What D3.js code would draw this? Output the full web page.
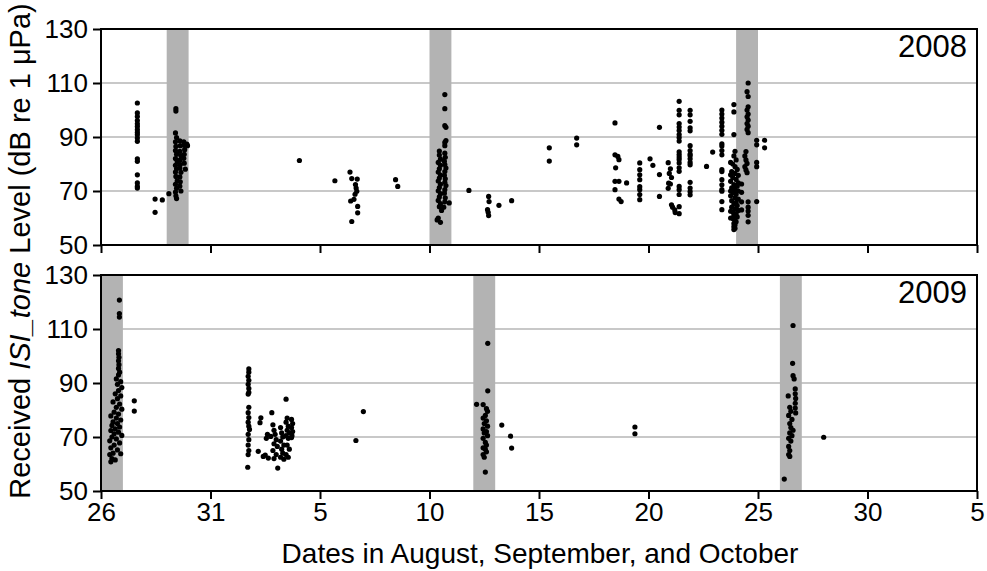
<!DOCTYPE html>
<html>
<head>
<meta charset="utf-8">
<script src="https://cdn.jsdelivr.net/npm/d3@7"></script>
<style>
  body { margin: 0; background: #fff; }
  svg { font-family: Arial, "Liberation Sans", sans-serif; }
  .grid line { stroke: #c8c8c8; stroke-width: 2; }
  .band { fill: #b3b3b3; }
  .dot { fill: #000; }
  .frame { fill: none; stroke: #000; stroke-width: 2; }
  .axis text { font-size: 26px; fill: #000; }
  .axis line { stroke: #000; stroke-width: 2; }
  .axis path { display: none; }
</style>
</head>
<body>
<svg></svg>
<script>
//================DATA=========================
// x = days after 26 August (00:00), y = received level in dB re 1 uPa
const xTicks = [0, 5, 10, 15, 20, 25, 30, 35, 40];
const xTickLabels = ['26', '31', '5', '10', '15', '20', '25', '30', '5'];
const yTicks = [50, 70, 90, 110, 130];

// shaded day bands (start day, one day wide)
const bands2008 = [3, 15, 29];
const bands2009 = [0, 17, 31];

const obs2008 = [
  [1.66,102.6],[1.66,98.9],[1.66,97.6],[1.66,96.1],[1.66,94.9],[1.66,93.9],[1.66,92.7],[1.66,91.7],
  [1.66,90.8],[1.66,89.6],[1.66,88.4],[1.66,81.9],[1.66,81.0],[1.66,76.0],[1.66,73.0],[1.66,71.7],[1.66,71.1],
  [2.47,67.0],[2.47,62.1],[2.8,66.7],[3.1,69.0],
  [3.42,100.5],[3.42,99.6],[3.4,91.5],[3.45,89.8],[3.4,88.2],[3.42,86.5],[3.4,85.0],[3.45,83.6],[3.4,82.0],
  [3.48,80.8],[3.4,79.5],[3.45,78.2],[3.4,77.0],[3.42,75.4],[3.48,73.8],[3.4,72.5],[3.45,71.0],[3.4,69.6],
  [3.42,68.2],[3.45,67.2],
  [3.6,88.6],[3.62,86.8],[3.6,84.7],[3.65,83.1],[3.6,81.4],[3.62,79.8],[3.6,78.5],[3.65,76.9],[3.6,75.2],
  [3.62,73.4],[3.6,71.8],[3.65,70.0],
  [3.78,88.2],[3.8,86.9],[3.82,85.3],[3.8,83.6],[3.78,82.1],[3.8,80.3],[3.85,78.1],[3.92,87.4],[3.95,86.8],
  [9.06,81.3],[10.68,73.8],
  [11.37,77.0],[11.45,74.6],[11.7,74.4],[11.62,72.4],[11.65,71.1],[11.68,69.9],[11.6,68.8],[11.4,66.3],
  [11.55,66.9],[11.72,64.3],[11.72,61.9],[11.45,58.7],
  [13.45,74.2],[13.55,71.7],
  [15.7,105.7],[15.7,100.5],[15.7,94.2],[15.75,93.6],[15.75,88.7],[15.7,88.0],[15.7,86.8],
  [15.45,84.8],[15.45,83.3],[15.5,81.8],[15.4,80.6],[15.5,79.5],[15.45,78.2],[15.4,77.0],[15.5,75.9],
  [15.45,74.8],[15.4,73.7],[15.5,72.5],[15.45,71.3],[15.4,70.1],[15.5,69.0],[15.45,67.8],[15.4,66.5],
  [15.5,65.3],[15.45,64.2],
  [15.7,84.0],[15.72,82.5],[15.68,81.0],[15.7,79.8],[15.75,78.5],[15.7,77.2],[15.68,75.8],[15.72,74.5],
  [15.7,73.2],[15.75,72.0],[15.7,70.5],[15.68,69.2],[15.72,67.5],[15.7,66.0],[15.65,64.0],
  [15.55,62.8],[15.4,60.0],[15.5,58.4],[15.35,59.3],[15.9,65.6],
  [16.8,70.2],
  [17.7,68.0],[17.72,66.1],[17.65,63.1],[17.68,62.1],[17.7,60.9],
  [18.17,64.7],[18.75,66.4],
  [20.47,86.0],[20.47,81.1],[21.72,89.6],[21.72,87.1],
  [23.47,95.2],[23.47,83.4],[23.6,82.8],[23.65,81.6],[23.5,78.6],[23.47,73.6],[23.65,73.6],[23.47,70.5],
  [23.65,67.0],[23.75,66.1],[24.0,73.0],
  [24.6,80.4],[24.6,77.9],[24.6,76.0],[24.6,74.2],[24.6,71.6],[24.6,70.5],[24.6,68.7],[24.6,66.8],
  [25.07,81.9],[25.2,79.5],[25.5,93.6],[25.5,76.1],[25.5,68.0],
  [25.9,80.5],[26.0,78.2],[25.95,76.5],[26.05,75.0],[25.92,72.9],[26.0,72.6],[25.9,71.0],
  [26.05,64.9],[26.1,64.0],[26.2,63.0],[26.22,62.0],
  [26.4,103.2],[26.4,99.9],[26.4,98.2],[26.4,95.0],[26.4,93.7],[26.4,92.4],[26.4,90.9],[26.4,89.8],
  [26.4,88.5],[26.4,84.5],[26.4,83.5],[26.4,82.6],[26.4,81.7],[26.4,80.4],[26.4,78.6],[26.4,77.3],
  [26.4,71.7],[26.4,70.5],[26.4,68.7],[26.4,64.2],[26.4,61.6],
  [26.9,99.9],[26.9,98.2],[26.9,95.8],[26.9,93.4],[26.9,92.3],[26.9,86.8],[26.9,85.0],[26.9,83.7],
  [26.9,83.1],[26.9,81.9],[26.9,80.6],[26.9,79.7],[26.9,73.2],[26.9,71.1],[26.9,69.8],[26.9,68.6],
  [27.65,79.1],[27.93,84.4],
  [28.35,100.0],[28.35,98.5],[28.35,97.0],[28.35,95.5],[28.35,94.0],[28.35,92.5],[28.35,91.0],
  [28.35,87.5],[28.35,86.7],[28.35,85.0],[28.35,83.4],[28.35,77.9],[28.35,77.2],[28.35,74.2],
  [28.35,72.3],[28.35,70.5],[28.35,69.9],[28.35,66.1],[28.35,63.1],
  [28.9,102.0],[28.9,99.3],[28.9,90.9],[28.95,84.7],[28.9,83.0],[29.0,81.5],[28.85,80.0],[28.95,79.0],
  [29.05,78.0],[28.8,77.2],[28.95,76.5],[29.1,75.8],[28.85,75.0],[29.0,74.3],[28.75,73.6],[29.1,73.0],
  [28.9,72.4],[29.05,71.8],[28.8,71.2],[28.95,70.6],[29.1,70.0],[28.85,69.4],[29.0,68.8],[28.75,68.2],
  [28.95,67.6],[29.1,67.0],[28.8,66.4],[29.0,65.8],[28.9,65.2],[29.05,64.6],[28.8,64.0],[28.95,63.4],
  [29.1,62.8],[28.85,62.2],[29.0,61.6],[28.9,61.0],[29.05,60.4],[28.85,59.8],[28.95,59.2],[29.0,58.6],
  [28.9,58.0],[28.95,57.4],[28.9,56.8],[28.95,56.2],[28.9,55.7],[29.25,72.6],[29.25,69.5],[29.25,66.0],
  [29.25,63.0],[28.75,80.6],[28.75,76.0],[28.75,70.0],[28.75,62.5],[28.75,60.0],
  [29.55,110.0],[29.5,106.8],[29.55,105.0],[29.55,101.2],[29.5,100.0],[29.55,98.5],[29.5,97.5],
  [29.55,96.3],[29.5,95.0],[29.55,94.0],[29.5,92.8],[29.55,91.6],
  [29.45,84.6],[29.4,83.0],[29.45,81.5],[29.5,80.2],[29.4,79.0],[29.45,77.8],[29.5,76.8],
  [29.55,66.0],[29.55,64.0],[29.55,62.6],[29.55,61.0],[29.55,58.6],
  [29.94,88.8],[29.94,87.1],[29.94,80.6],[29.94,79.0],[29.94,66.1],
  [30.3,88.8],[30.3,86.0]
];

const obs2009 = [
  [0.84,120.7],[0.84,115.7],[0.84,114.4],[0.8,102.0],[0.8,100.8],[0.82,99.5],[0.8,98.2],[0.82,96.8],
  [0.8,95.4],[0.85,94.0],[0.8,93.0],
  [0.7,91.5],[0.9,90.5],[0.75,89.5],[0.95,88.3],[0.8,87.2],[0.65,86.0],[0.9,85.2],[0.75,84.2],
  [0.55,83.0],[0.85,82.2],[0.7,81.0],[0.95,80.3],[0.6,79.2],[0.8,78.5],[0.45,77.8],[0.7,77.0],
  [0.9,76.3],[0.55,75.6],[0.75,75.0],[0.5,74.3],[0.85,73.7],[0.65,73.0],[0.45,72.4],[0.8,71.8],
  [0.6,71.2],[0.95,70.6],[0.5,70.0],[0.7,69.3],[0.4,68.6],[0.85,67.8],[0.6,67.0],[0.45,66.0],
  [0.75,65.2],[0.55,64.0],[0.4,63.5],[0.9,63.8],[0.5,62.0],[0.45,60.8],[0.65,61.5],
  [1.52,83.4],[1.52,79.6],
  [6.75,95.2],[6.75,94.0],[6.72,92.5],[6.75,91.0],[6.72,89.5],[6.75,88.0],[6.75,86.5],[6.72,85.9],
  [6.75,81.0],[6.72,79.0],[6.75,77.2],[6.72,75.5],[6.75,74.0],[6.78,72.8],[6.72,71.0],[6.75,69.0],
  [6.72,67.0],[6.75,65.0],[6.72,63.5],[6.7,58.8],
  [7.26,75.3],[7.3,77.1],[7.18,64.7],[7.41,62.8],[7.64,62.2],[7.5,63.3],[7.6,71.0],[7.55,69.5],
  [7.8,79.0],[7.85,74.5],[7.9,72.5],[7.95,71.0],[7.75,70.2],[8.0,69.0],[7.9,67.5],[8.05,66.5],
  [7.85,65.0],[8.0,63.5],[7.9,62.0],[8.07,58.5],
  [8.2,73.5],[8.25,71.5],[8.3,70.0],[8.2,68.5],[8.35,67.0],[8.25,65.5],[8.3,64.0],[8.2,62.5],[8.35,61.8],
  [8.45,84.0],[8.5,77.0],[8.45,75.5],[8.55,74.0],[8.5,72.5],[8.6,71.5],[8.45,70.5],[8.55,69.5],
  [8.5,67.0],[8.6,65.5],[8.45,63.5],[8.55,62.5],
  [8.7,76.5],[8.75,75.0],[8.7,73.5],[8.75,72.0],[8.72,70.5],[8.7,69.8],
  [11.64,68.7],[11.98,79.4],
  [17.66,104.7],[17.66,87.1],[17.15,82.1],[17.45,82.0],[17.6,80.5],[17.65,79.5],[17.55,78.0],[17.45,77.0],
  [17.6,76.0],[17.5,75.0],[17.65,74.0],[17.45,73.0],[17.6,72.0],[17.5,71.5],[17.65,70.5],[17.45,69.5],
  [17.55,68.0],[17.6,67.0],[17.45,66.0],[17.55,65.5],[17.6,64.5],[17.45,63.5],[17.5,62.5],[17.55,57.0],
  [18.3,74.4],[18.7,70.3],[18.75,65.9],
  [24.38,73.7],[24.38,71.2],
  [31.6,111.3],[31.58,97.3],[31.6,92.7],[31.65,91.5],[31.38,85.2],[31.7,87.8],[31.7,86.0],[31.72,84.3],
  [31.7,82.5],[31.7,80.7],[31.72,78.9],[31.45,81.0],[31.5,79.5],[31.4,78.0],[31.55,76.5],[31.45,75.0],
  [31.5,73.5],[31.6,72.5],[31.45,71.5],[31.55,70.5],[31.4,69.5],[31.5,68.5],[31.4,66.5],[31.45,65.0],
  [31.4,63.5],[31.45,62.8],[31.2,54.4],
  [33.0,69.9]
];

//================LAYOUT=========================
const width = 987;
const height = 571;
const left = 101, right = 977;
const panelH = 216;
const panels = [
  { top: 29,  obs: obs2008, bands: bands2008, year: '2008', labels: false },
  { top: 275, obs: obs2009, bands: bands2009, year: '2009', labels: true }
];

const svg = d3.select('svg')
    .attr('width', width)
    .attr('height', height);

const x = d3.scaleLinear()
    .domain([0, 40])
    .range([left, right]);

panels.forEach(drawPanel);

//---------shared axis titles-----------
svg.append('text')
    .attr('x', 540)
    .attr('y', 563)
    .attr('text-anchor', 'middle')
    .style('font-size', '28px')
    .text('Dates in August, September, and October');

const yTitle = svg.append('text')
    .attr('transform', 'translate(30,251) rotate(-90)')
    .attr('text-anchor', 'middle')
    .style('font-size', '29px');
yTitle.append('tspan').text('Received ');
yTitle.append('tspan').style('font-style', 'italic').text('ISI_tone');
yTitle.append('tspan').text(' Level (dB re 1 \u03bcPa)');

//================PANEL=========================
function drawPanel(p) {
  const y = d3.scaleLinear()
      .domain([50, 130])
      .range([p.top + panelH, p.top]);
  const g = svg.append('g');

  //-------grid lines
  g.append('g')
      .attr('class', 'grid')
    .selectAll('line')
    .data([70, 90, 110])
    .join('line')
      .attr('x1', left)
      .attr('x2', right)
      .attr('y1', d => y(d))
      .attr('y2', d => y(d));

  //-------shaded days
  g.selectAll('.band')
    .data(p.bands)
    .join('rect')
      .attr('class', 'band')
      .attr('x', d => x(d))
      .attr('width', d => x(d + 1) - x(d))
      .attr('y', p.top)
      .attr('height', panelH);

  //-------observations
  g.selectAll('.dot')
    .data(p.obs)
    .join('circle')
      .attr('class', 'dot')
      .attr('cx', d => x(d[0]))
      .attr('cy', d => y(d[1]))
      .attr('r', 2.6);

  //-------axes
  g.append('g')
      .attr('class', 'axis')
      .attr('transform', `translate(${left},0)`)
      .call(d3.axisLeft(y).tickValues(yTicks).tickSize(8).tickPadding(5));

  g.append('g')
      .attr('class', 'axis')
      .attr('transform', `translate(0,${p.top + panelH})`)
      .call(d3.axisBottom(x).tickValues(xTicks).tickSize(8).tickPadding(4)
        .tickFormat((d, i) => p.labels ? xTickLabels[i] : ''));

  g.append('rect')
      .attr('class', 'frame')
      .attr('x', left)
      .attr('y', p.top)
      .attr('width', right - left)
      .attr('height', panelH);

  g.append('text')
      .attr('x', right - 10)
      .attr('y', p.top + 28)
      .attr('text-anchor', 'end')
      .style('font-size', '31px')
      .text(p.year);
}
</script>
</body>
</html>
